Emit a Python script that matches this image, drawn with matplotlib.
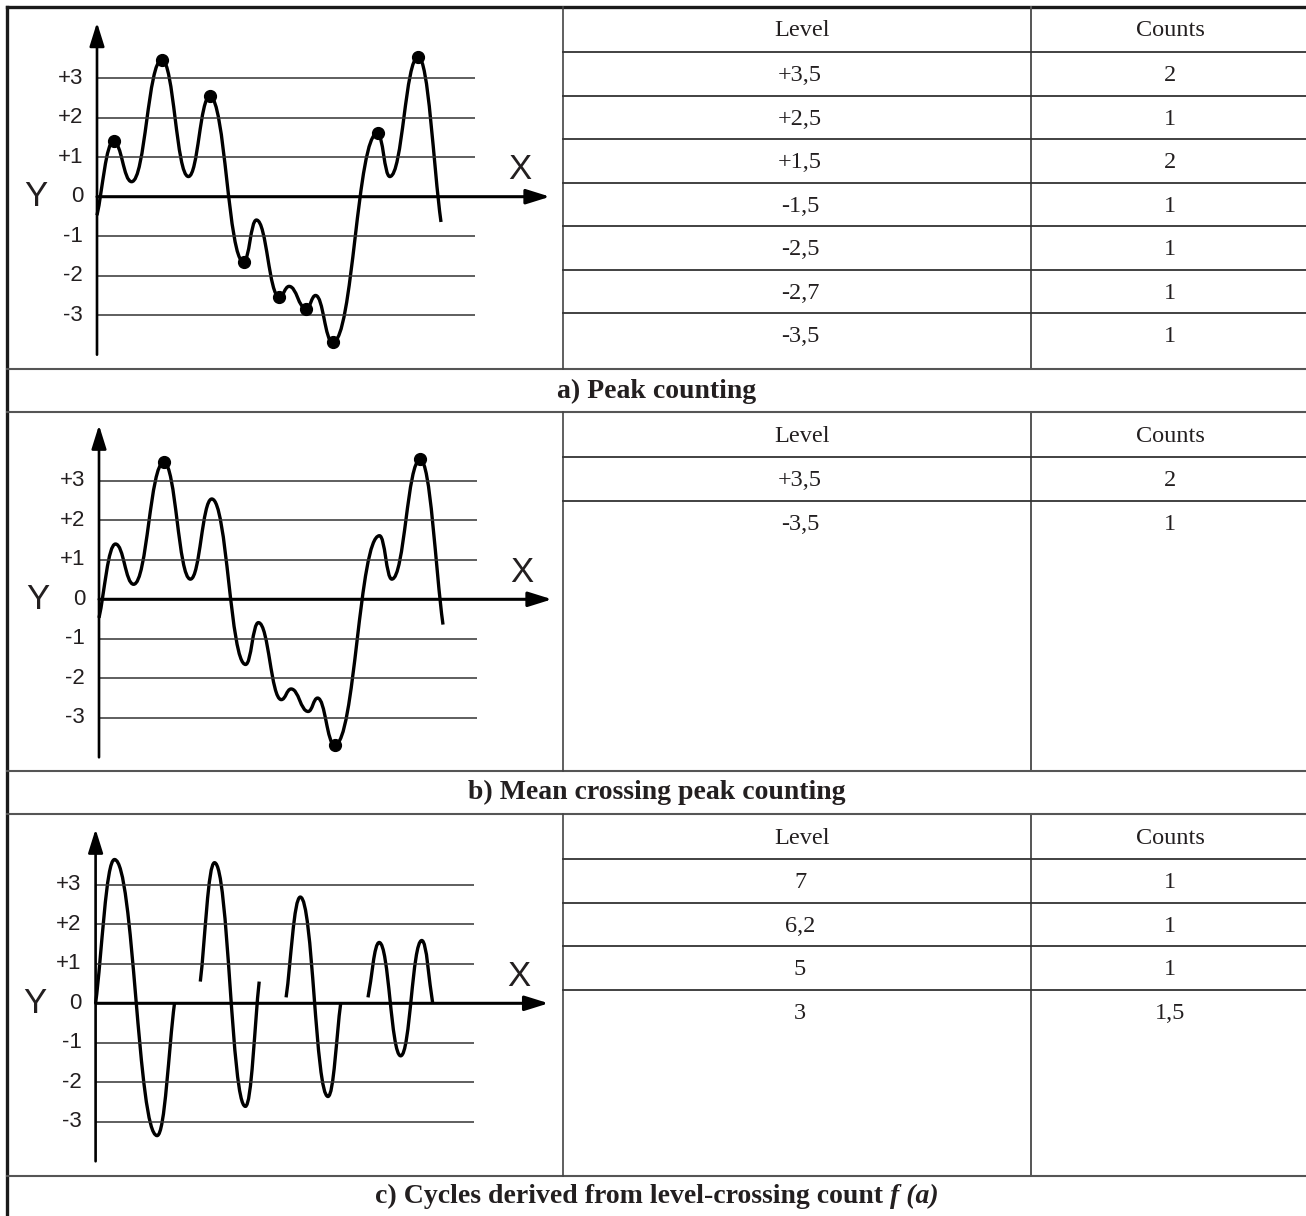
import matplotlib
matplotlib.use('Agg')
import matplotlib.pyplot as plt
from matplotlib.path import Path
from matplotlib.patches import PathPatch

# signal used in panels a) and b): time, level at each turning point
sig_t = [0.0, 1.65, 3.46, 6.48, 9.14, 11.28, 14.66, 15.94, 18.23, 19.21,
         20.92, 21.86, 23.57, 28.05, 29.28, 32.12, 34.4]
sig_y = [-0.47, 1.40, 0.38, 3.47, 0.51, 2.54, -1.65, -0.59, -2.54, -2.27,
         -2.84, -2.5, -3.69, 1.61, 0.51, 3.54, -0.64]
dots_a = [1, 3, 5, 6, 8, 10, 12, 13, 15]
dots_b = [3, 12, 15]

# panel c): separate cycles
cyc_t = [[0.0, 1.89, 6.15, 7.89],
         [10.47, 11.89, 14.98, 16.36],
         [19.05, 20.47, 23.24, 24.51],
         [27.24, 28.36, 30.51, 32.62, 33.71]]
cyc_y = [[0.0, 3.64, -3.35, 0.0],
         [0.55, 3.56, -2.61, 0.55],
         [0.15, 2.69, -2.36, 0.0],
         [0.15, 1.54, -1.33, 1.59, 0.0]]

y_ticks = [3, 2, 1, 0, -1, -2, -3]
y_labels = ['+3', '+2', '+1', '0', '-1', '-2', '-3']

levels_a = ['+3,5', '+2,5', '+1,5', '-1,5', '-2,5', '-2,7', '-3,5']
counts_a = ['2', '1', '2', '1', '1', '1', '1']
levels_b = ['+3,5', '-3,5']
counts_b = ['2', '1']
levels_c = ['7', '6,2', '5', '3']
counts_c = ['1', '1', '1', '1,5']

captions = ['a) Peak counting', 'b) Mean crossing peak counting',
            'c) Cycles derived from level-crossing count ']
caption_it = 'f (a)'

# layout (pixels)
W, H = 1306, 1216
PX_T, PX_Y = 10.0, 39.5
DIV_X, COL_X = 563, 1031
LEFT, TOP = 7, 7
tops = [7, 412, 814]
bots = [369, 771, 1176]
cap_y = [391, 792, 1196]
origins = [(97, 196.7), (99, 599.3), (95.6, 1003.3)]
ROW_H = 43.5
HEAD_H = 45

fig = plt.figure(figsize=(W / 100, H / 100), dpi=100)
fig.patch.set_facecolor('white')

TXT = '#231f20'
SERIF = 'Liberation Serif'
SANS = 'Liberation Sans'


def wave(ax, t, y, lw=2.4):
    # smooth curve through turning points, flat tangents at the extrema
    n = len(t)
    verts = [(t[0], y[0])]
    codes = [Path.MOVETO]
    k = 0.45
    for i in range(n - 1):
        x0, y0, x1, y1 = t[i], y[i], t[i + 1], y[i + 1]
        dx, dy = x1 - x0, y1 - y0
        if i == 0:
            c1 = (x0 + dx / 3, y0 + dy / 3)
        else:
            c1 = (x0 + k * dx, y0)
        if i + 1 == n - 1:
            c2 = (x1 - dx / 3, y1 - dy / 3)
        else:
            c2 = (x1 - k * dx, y1)
        verts += [c1, c2, (x1, y1)]
        codes += [Path.CURVE4] * 3
    ax.add_patch(PathPatch(Path(verts, codes), fill=False, lw=lw,
                           ec='black', capstyle='butt', joinstyle='round'))


def graph(top, bot, ox, oy):
    ax = fig.add_axes([0, 1 - bot / H, DIV_X / W, (bot - top) / H])
    ax.set_xlim(-ox / PX_T, (DIV_X - ox) / PX_T)
    ax.set_ylim((oy - bot) / PX_Y, (oy - top) / PX_Y)
    ax.axis('off')
    ax.hlines([v for v in y_ticks if v != 0], 0, 37.8, color='#333333', lw=1.1)
    arr = '-|>,head_length=0.8,head_width=0.25'
    ax.annotate('', xy=(45.3, 0), xytext=(0, 0),
                arrowprops=dict(arrowstyle=arr, mutation_scale=18, lw=2.2,
                                color='black', shrinkA=0, shrinkB=0))
    ax.annotate('', xy=(0, 4.41), xytext=(0, -4.0),
                arrowprops=dict(arrowstyle=arr, mutation_scale=18, lw=1.9,
                                color='black', shrinkA=0, shrinkB=0))
    for v, lab in zip(y_ticks, y_labels):
        ax.text(-1.4, v, lab, ha='right', va='center', fontsize=16,
                family=SANS, color=TXT)
    ax.text(-6.1, 0, 'Y', ha='center', va='center', fontsize=25, family=SANS, color=TXT)
    ax.text(42.3, 0.68, 'X', ha='center', va='center', fontsize=25, family=SANS, color=TXT)
    return ax


# a) peak counting
ax = graph(tops[0], bots[0], *origins[0])
wave(ax, sig_t, sig_y)
ax.plot([sig_t[i] for i in dots_a], [sig_y[i] for i in dots_a], 'o',
        ms=8.5, color='black')

# b) mean crossing peak counting
ax = graph(tops[1], bots[1], *origins[1])
wave(ax, sig_t, sig_y)
ax.plot([sig_t[i] for i in dots_b], [sig_y[i] for i in dots_b], 'o',
        ms=8.5, color='black')

# c) cycles
ax = graph(tops[2], bots[2], *origins[2])
for t, y in zip(cyc_t, cyc_y):
    wave(ax, t, y)

# frame, tables and captions
ov = fig.add_axes([0, 0, 1, 1], zorder=-1)
ov.set_xlim(0, W)
ov.set_ylim(H, 0)
ov.axis('off')

ov.plot([LEFT, LEFT], [TOP, H], color='#1a1a1a', lw=2.4, solid_capstyle='projecting')
ov.plot([LEFT, W], [TOP, TOP], color='#1a1a1a', lw=2.4, solid_capstyle='projecting')
for yy in [bots[0], tops[1], bots[1], tops[2], bots[2]]:
    ov.plot([LEFT, W], [yy, yy], color='#555555', lw=1.5)

tables = [(levels_a, counts_a), (levels_b, counts_b), (levels_c, counts_c)]
for p, (lev, cnt) in enumerate(tables):
    top, bot = tops[p], bots[p]
    ov.plot([DIV_X, DIV_X], [top, bot], color='#444444', lw=1.2)
    ov.plot([COL_X, COL_X], [top, bot], color='#555555', lw=1.4)
    y0 = top + HEAD_H
    ov.plot([DIV_X, W], [y0, y0], color='#333333', lw=1.3)
    ov.text(802, top + 24, 'Level', ha='center', va='center', fontsize=17.5,
            family=SERIF, color=TXT)
    ov.text(1170, top + 24, 'Counts', ha='center', va='center', fontsize=17.5,
            family=SERIF, color=TXT)
    for r, (lv, ct) in enumerate(zip(lev, cnt)):
        yc = y0 + ROW_H * (r + 0.5) + 2
        ov.text(800, yc, lv, ha='center', va='center', fontsize=17.5,
                family=SERIF, color=TXT)
        ov.text(1170, yc, ct, ha='center', va='center', fontsize=17.5,
                family=SERIF, color=TXT)
        if r < len(lev) - 1:
            ov.plot([DIV_X, W], [y0 + ROW_H * (r + 1)] * 2, color='#333333', lw=1.3)

for p in range(2):
    ov.text(657, cap_y[p], captions[p], ha='center', va='center', fontsize=20,
            family=SERIF, weight='bold', color=TXT)

t1 = ov.text(657, cap_y[2], captions[2], ha='center', va='center', fontsize=20,
             family=SERIF, weight='bold', color=TXT)
t2 = ov.annotate(caption_it, xy=(1, 0), xycoords=t1, ha='left', va='bottom',
                 fontsize=20, family=SERIF, weight='bold', style='italic', color=TXT)
r = fig.canvas.get_renderer()
w2 = t2.get_window_extent(r).width
t1.set_x(657 - w2 / 2)

fig.savefig('out.png', dpi=100, facecolor='white')
